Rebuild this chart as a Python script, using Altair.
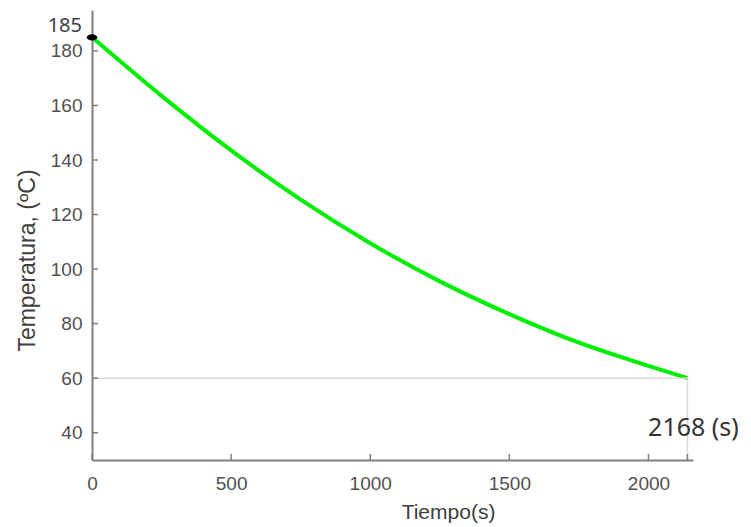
import altair as alt
import pandas as pd

# Data
times = [0, 250, 500, 750, 1000, 1250, 1500, 1750, 2000, 2140]
temps = [185, 163.5, 143.5, 125.5, 109.5, 95.5, 83.5, 73, 64.5, 60]

x_ticks = [0, 500, 1000, 1500, 2000, 2140]
x_labels = [0, 500, 1000, 1500, 2000]
y_ticks = [40, 60, 80, 100, 120, 140, 160, 180]

end_time = 2140
end_temp = 60
start_time = 0
start_temp = 185
y_min = 30

XT = "Tiempo(s)"
YT = "Temperatura, (ºC)"

curve_df = pd.DataFrame({"t": times, "T": temps})

xscale = alt.Scale(domain=[0, 2160], nice=False, zero=False)
yscale = alt.Scale(domain=[30, 195], nice=False, zero=False)

FONT = "Liberation Sans"
AX = dict(domainColor="#808080", domainWidth=2, ticks=False, grid=False,
          labelFont=FONT, labelFontSize=19, labelColor="#505050", labelFlush=False,
          format="d", titleFontWeight="normal", titleColor="#404040")


def X(f):
    return alt.X(f, scale=xscale, title=XT)


def Y(f):
    return alt.Y(f, scale=yscale, title=YT)


curve = alt.Chart(curve_df).mark_line(color="#00ee00", strokeWidth=4,
                                      interpolate="monotone").encode(
    x=alt.X("t:Q", scale=xscale, title=XT,
            axis=alt.Axis(values=x_labels, labelPadding=14,
                          titleFont=FONT, titleFontSize=21,
                          titleX=356, titleY=52, titleBaseline="middle",
                          titleAnchor="start", titleAlign="center", **AX)),
    y=alt.Y("T:Q", scale=yscale, title=YT,
            axis=alt.Axis(values=y_ticks, labelPadding=10,
                          titleFont="Liberation Sans", titleFontSize=23,
                          titleX=-65, titleY=250, titleAngle=-90,
                          titleBaseline="middle", titleAlign="center", **AX)),
)

hline = alt.Chart(pd.DataFrame({"t": [start_time], "b": [end_time], "T": [end_temp]})).mark_rule(
    color="#d9d9d9", strokeWidth=1.5).encode(x=X("t:Q"), x2="b:Q", y=Y("T:Q"))

vline = alt.Chart(pd.DataFrame({"t": [end_time], "T": [end_temp], "y2": [y_min]})).mark_rule(
    color="#d9d9d9", strokeWidth=1.5).encode(x=X("t:Q"), y=Y("T:Q"), y2="y2:Q")

yt = alt.Chart(pd.DataFrame({"T": y_ticks})).mark_rule(color="#808080", strokeWidth=1.5).encode(
    y=Y("T:Q"), x=alt.value(0), x2=alt.value(6))

xt = alt.Chart(pd.DataFrame({"t": x_ticks})).mark_rule(color="#808080", strokeWidth=1.5).encode(
    x=X("t:Q"), y=alt.value(450), y2=alt.value(444))

marker = alt.Chart(pd.DataFrame({"t": [start_time], "T": [start_temp]})).mark_point(
    shape="M -1 0 A 1 0.6 0 1 0 1 0 A 1 0.6 0 1 0 -1 0 Z",
    filled=True, color="black", opacity=1, size=110).encode(x=X("t:Q"), y=Y("T:Q"))

lbl185 = alt.Chart(pd.DataFrame({"t": [start_time], "T": [start_temp], "s": ["185"]})).mark_text(
    font="Noto Sans", fontSize=20, color="#3c4048", align="right", baseline="middle",
    dx=-10, dy=-11).encode(x=X("t:Q"), y=Y("T:Q"), text="s:N")

lblend = alt.Chart(pd.DataFrame({"t": [end_time], "T": [end_temp], "s": ["2168 (s)"]})).mark_text(
    font="Noto Sans", fontSize=25, color="#333333", align="center", baseline="middle",
    dx=6, dy=50).encode(x=X("t:Q"), y=Y("T:Q"), text="s:N")

chart = alt.layer(curve, hline, vline, yt, xt, marker, lbl185, lblend).properties(
    width=601, height=450,
    padding={"left": 84, "top": 2, "right": 50, "bottom": 67},
    autosize="none",
).configure_view(stroke=None)

chart.save("out.html", embed_options={"renderer": "svg", "actions": False})
